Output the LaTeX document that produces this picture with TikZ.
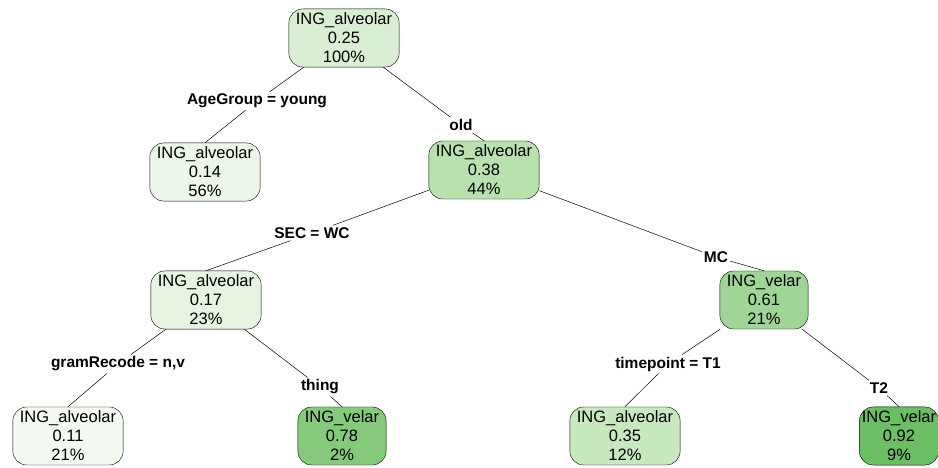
\documentclass[tikz,border=0pt]{standalone}
\usepackage{fontspec}
\setmainfont{Liberation Sans}
\usetikzlibrary{positioning}

\definecolor{gA}{HTML}{F4FAF1}
\definecolor{gB}{HTML}{EDF7E9}
\definecolor{gC}{HTML}{E6F4E1}
\definecolor{gD}{HTML}{D9EFD3}
\definecolor{gE}{HTML}{C8E8C0}
\definecolor{gF}{HTML}{B8E1AD}
\definecolor{gG}{HTML}{9FD696}
\definecolor{gH}{HTML}{84CA7A}
\definecolor{gI}{HTML}{6BBE61}

\begin{document}
\begin{tikzpicture}[x=1pt, y=-1pt,
    treenode/.style = {shape=rectangle, rounded corners=14pt,
    draw, align=center, font=\fontsize{16.5}{19}\selectfont,
    inner xsep=7pt, inner ysep=4pt},
    splitlabel/.style = {font=\bfseries\fontsize{15.5}{18}\selectfont,
    inner sep=2pt},
    line/.style={draw, line width=0.5pt}]

    \useasboundingbox (0,0) rectangle (938,468);

    % nodes of the tree
    \node[treenode, fill=gD] (root) at (344,38) {ING\_alveolar\\0.25\\100\%};
    \node[treenode, fill=gB] (young) at (205,172) {ING\_alveolar\\0.14\\56\%};
    \node[treenode, fill=gF] (old) at (484,170) {ING\_alveolar\\0.38\\44\%};
    \node[treenode, fill=gC] (wc) at (206,300) {ING\_alveolar\\0.17\\23\%};
    \node[treenode, fill=gG] (mc) at (764,300) {ING\_velar\\0.61\\21\%};
    \node[treenode, fill=gA] (nv) at (68,436) {ING\_alveolar\\0.11\\21\%};
    \node[treenode, fill=gH] (thing) at (342,436) {ING\_velar\\0.78\\2\%};
    \node[treenode, fill=gE] (tone) at (625,436) {ING\_alveolar\\0.35\\12\%};
    \node[treenode, fill=gI, inner xsep=2.5pt] (ttwo) at (899,436) {ING\_velar\\0.92\\9\%};

    % split labels
    \node[splitlabel] (lyoung) at (257,101) {AgeGroup = young};
    \node[splitlabel] (lold) at (461,125) {old};
    \node[splitlabel] (lwc) at (312,233) {SEC = WC};
    \node[splitlabel] (lmc) at (716,257) {MC};
    \node[splitlabel] (lnv) at (118,364) {gramRecode = n,v};
    \node[splitlabel] (lthing) at (320,387) {thing};
    \node[splitlabel] (ltone) at (668,364) {timepoint = T1};
    \node[splitlabel] (lttwo) at (879,388) {T2};

  \draw[line] (root) -- (lyoung) -- (young.north);
  \draw[line] (root) -- (lold) -- (old.north);
  \draw[line] (old) -- (lwc) -- (wc.north);
  \draw[line] (old) -- (lmc) -- (mc.north);
  \draw[line] (wc) -- (lnv) -- (nv.north);
  \draw[line] (wc) -- (lthing) -- (thing.north);
  \draw[line] (mc) -- (ltone) -- (tone.north);
  \draw[line] (mc) -- (lttwo) -- (ttwo.north);

\end{tikzpicture}
\end{document}
